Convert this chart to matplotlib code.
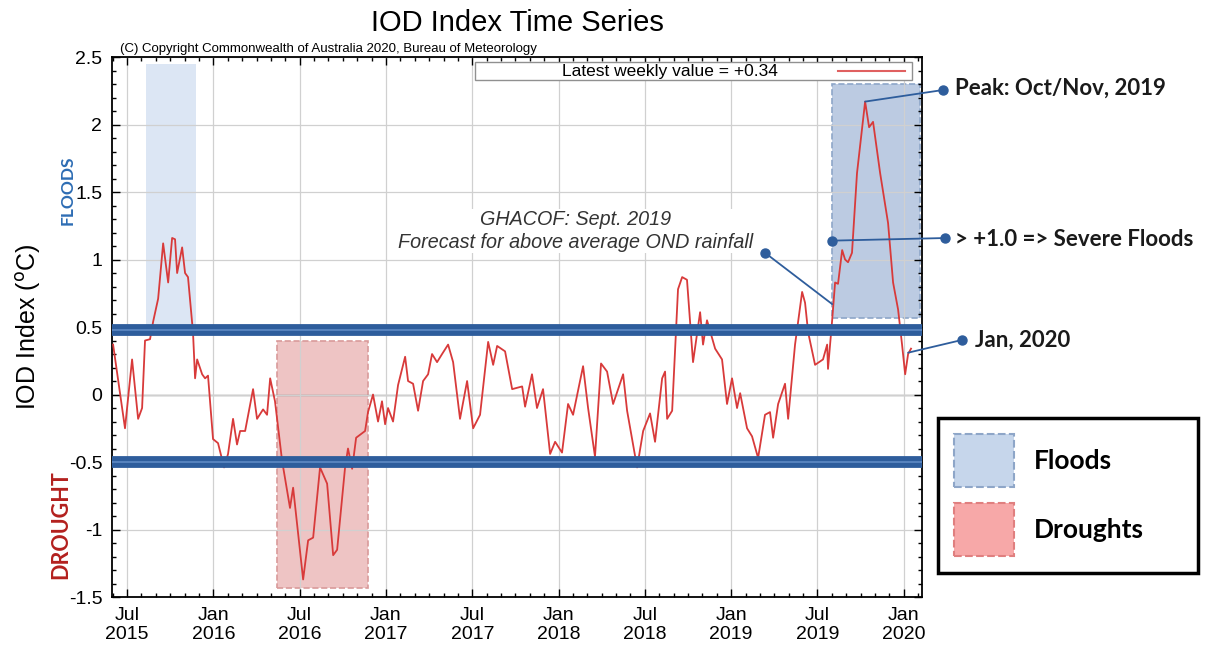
import matplotlib
matplotlib.use('Agg')
import matplotlib.pyplot as plt
from matplotlib.patches import Rectangle, Patch
from matplotlib.lines import Line2D
from matplotlib.ticker import MultipleLocator

plt.rcParams['font.family'] = ['Liberation Sans', 'DejaVu Sans']
plt.rcParams['axes.unicode_minus'] = False

# weekly IOD index (time as decimal year, value in deg C)
years = [
    2015.419, 2015.488, 2015.529, 2015.564, 2015.587, 2015.604, 2015.633, 2015.651,
    2015.680, 2015.709, 2015.738, 2015.761, 2015.778, 2015.790, 2015.819, 2015.836,
    2015.853, 2015.882, 2015.894, 2015.906, 2015.935, 2015.952, 2015.969, 2015.998,
    2016.027, 2016.062, 2016.085, 2016.114, 2016.137, 2016.155, 2016.184, 2016.230,
    2016.253, 2016.288, 2016.311, 2016.329, 2016.357, 2016.398, 2016.444, 2016.462,
    2016.520, 2016.549, 2016.578, 2016.618, 2016.659, 2016.694, 2016.717, 2016.763,
    2016.780, 2016.804, 2016.827, 2016.879, 2016.896, 2016.925, 2016.954, 2016.977,
    2016.995, 2017.012, 2017.041, 2017.070, 2017.111, 2017.128, 2017.157, 2017.186,
    2017.215, 2017.244, 2017.267, 2017.296, 2017.325, 2017.360, 2017.389, 2017.429,
    2017.470, 2017.505, 2017.545, 2017.592, 2017.621, 2017.644, 2017.690, 2017.731,
    2017.789, 2017.806, 2017.846, 2017.875, 2017.910, 2017.951, 2017.980, 2018.020,
    2018.055, 2018.084, 2018.142, 2018.171, 2018.211, 2018.246, 2018.281, 2018.316,
    2018.374, 2018.397, 2018.455, 2018.490, 2018.530, 2018.559, 2018.600, 2018.617,
    2018.629, 2018.658, 2018.692, 2018.716, 2018.744, 2018.779, 2018.820, 2018.837,
    2018.860, 2018.907, 2018.947, 2018.976, 2019.005, 2019.034, 2019.052, 2019.092,
    2019.121, 2019.156, 2019.196, 2019.225, 2019.243, 2019.272, 2019.312, 2019.330,
    2019.370, 2019.411, 2019.428, 2019.446, 2019.486, 2019.532, 2019.556, 2019.561,
    2019.585, 2019.602, 2019.619, 2019.643, 2019.660, 2019.677, 2019.700, 2019.729,
    2019.776, 2019.799, 2019.822, 2019.863, 2019.909, 2019.938, 2019.967, 2019.990,
    2020.008, 2020.025, 2020.042,
]
iod = [
    0.37, -0.25, 0.26, -0.18, -0.10, 0.40, 0.41, 0.54,
    0.71, 1.12, 0.83, 1.16, 1.15, 0.90, 1.09, 0.90,
    0.87, 0.46, 0.12, 0.26, 0.15, 0.12, 0.14, -0.33,
    -0.36, -0.54, -0.44, -0.18, -0.37, -0.27, -0.27, 0.04,
    -0.18, -0.11, -0.15, 0.12, -0.05, -0.49, -0.84, -0.69,
    -1.37, -1.08, -1.06, -0.54, -0.66, -1.19, -1.15, -0.54,
    -0.40, -0.55, -0.32, -0.27, -0.13, 0.00, -0.20, -0.05,
    -0.22, -0.10, -0.20, 0.07, 0.28, 0.10, 0.08, -0.12,
    0.10, 0.15, 0.30, 0.24, 0.30, 0.37, 0.24, -0.18,
    0.10, -0.25, -0.15, 0.39, 0.22, 0.36, 0.32, 0.04,
    0.06, -0.09, 0.15, -0.10, 0.04, -0.44, -0.35, -0.43,
    -0.07, -0.15, 0.21, -0.10, -0.46, 0.23, 0.17, -0.07,
    0.15, -0.12, -0.54, -0.27, -0.14, -0.35, 0.12, 0.17,
    -0.18, -0.12, 0.78, 0.87, 0.85, 0.24, 0.61, 0.37,
    0.55, 0.34, 0.26, -0.07, 0.12, -0.10, 0.01, -0.25,
    -0.31, -0.47, -0.15, -0.13, -0.32, -0.07, 0.08, -0.18,
    0.37, 0.76, 0.68, 0.46, 0.22, 0.26, 0.37, 0.19,
    0.55, 0.83, 0.82, 1.07, 1.00, 0.98, 1.05, 1.64,
    2.17, 1.98, 2.02, 1.64, 1.27, 0.83, 0.63, 0.37,
    0.15, 0.30, 0.34,
]

tick_years = [2015.5, 2016.0, 2016.5, 2017.0, 2017.5, 2018.0, 2018.5, 2019.0, 2019.5, 2020.0]
tick_labels = ['Jul\n2015', 'Jan\n2016', 'Jul\n2016', 'Jan\n2017', 'Jul\n2017',
               'Jan\n2018', 'Jul\n2018', 'Jan\n2019', 'Jul\n2019', 'Jan\n2020']

# shaded events: (start, end, low, high)
flood_2015 = (2015.61, 2015.90, 0.50, 2.45)
flood_2019 = (2019.585, 2020.095, 0.57, 2.30)
drought_2016 = (2016.367, 2016.898, -1.43, 0.40)
thresholds = [0.48, -0.50]
latest_value = 0.34

peak_point = (2019.776, 2.17)
severe_point = (2019.585, 1.14)
jan2020_point = (2020.025, 0.31)
ghacof_dot = (2019.196, 1.05)
ghacof_point = (2019.585, 0.67)
ghacof_text_at = (2018.096, 1.21)

blue = '#2e5d9c'
red = '#d83a3a'


def main():
    fig = plt.figure(figsize=(12.26, 6.55), dpi=100)
    ax = fig.add_axes([0.0914, 0.0885, 0.6607, 0.8244])
    ax.set_xlim(2015.413, 2020.106)
    ax.set_ylim(-1.5, 2.5)

    # event boxes
    x0, x1, y0, y1 = flood_2015
    ax.add_patch(Rectangle((x0, y0), x1 - x0, y1 - y0, facecolor='#dce6f4',
                           edgecolor='none', zorder=1))
    x0, x1, y0, y1 = flood_2019
    ax.add_patch(Rectangle((x0, y0), x1 - x0, y1 - y0, facecolor='#bccbe2',
                           edgecolor='#8ea6c8', linestyle='--', lw=1.2, zorder=1))
    x0, x1, y0, y1 = drought_2016
    ax.add_patch(Rectangle((x0, y0), x1 - x0, y1 - y0, facecolor='#eec4c4',
                           edgecolor='#d99a9a', linestyle='--', lw=1.2, zorder=1))

    ax.grid(True, color='#d0d0d0', lw=0.9, zorder=0)
    ax.axhline(0, color='#8c8c8c', lw=1.0, zorder=1.5)

    ax.plot(years, iod, color=red, lw=1.3, zorder=3)

    for level in thresholds:
        ax.axhline(level, color=blue, lw=8.5, zorder=4)
        ax.axhline(level, color='#5f8ac4', lw=1.2, zorder=4.1)

    # ticks
    ax.set_xticks(tick_years, tick_labels)
    ax.set_yticks([-1.5, -1, -0.5, 0, 0.5, 1, 1.5, 2, 2.5],
                  ['-1.5', '-1', '-0.5', '0', '0.5', '1', '1.5', '2', '2.5'])
    ax.xaxis.set_minor_locator(MultipleLocator(1 / 12))
    ax.yaxis.set_minor_locator(MultipleLocator(0.1))
    ax.tick_params(which='both', direction='in', top=True, right=True, width=1.0)
    ax.tick_params(which='major', length=6, labelsize=14, pad=7)
    ax.tick_params(which='minor', length=3)
    for sp in ax.spines.values():
        sp.set_linewidth(1.3)

    ax.set_ylabel('IOD Index ($^{\\rm o}$C)', fontsize=18)
    ax.yaxis.set_label_coords(-0.085, 0.5)
    ax.text(-0.055, 0.754, 'FLOODS', transform=ax.transAxes, rotation=90,
            ha='center', va='center', color='#2e6db4', fontsize=12.5,
            fontweight='bold', family=['Lato', 'DejaVu Sans'])
    ax.text(-0.063, 0.135, 'DROUGHT', transform=ax.transAxes, rotation=90,
            ha='center', va='center', color='#b3201e', fontsize=15.5,
            fontweight='bold', family=['Lato', 'DejaVu Sans'])

    ax.set_title('IOD Index Time Series', fontsize=21, pad=19)
    ax.text(0.01, 1.004, '(C) Copyright Commonwealth of Australia 2020, Bureau of Meteorology',
            transform=ax.transAxes, fontsize=9.5, va='bottom', ha='left')

    # "latest weekly value" key
    ax.add_patch(Rectangle((0.448, 0.957), 0.540, 0.034, transform=ax.transAxes,
                           facecolor='white', edgecolor='#909090', lw=1.0, zorder=5))
    ax.text(0.689, 0.974, 'Latest weekly value = +%.2f' % latest_value,
            transform=ax.transAxes, ha='center', va='center', fontsize=12.5, zorder=6)
    ax.add_line(Line2D([0.896, 0.979], [0.974, 0.974], transform=ax.transAxes,
                       color='#e06060', lw=1.5, zorder=6))

    # GHACOF note
    ax.text(ghacof_text_at[0], ghacof_text_at[1],
            'GHACOF: Sept. 2019\nForecast for above average OND rainfall',
            ha='center', va='center', style='italic', fontsize=14.2,
            linespacing=1.25, family=['Liberation Sans Narrow', 'Liberation Sans'],
            color='#333333', bbox=dict(fc='white', ec='none', pad=1), zorder=5)
    line_kw = dict(arrowstyle='-', color=blue, lw=1.3, shrinkA=0, shrinkB=0)
    ax.annotate('', xy=ghacof_point, xytext=ghacof_dot, arrowprops=line_kw, zorder=6)
    ax.plot(*ghacof_dot, 'o', color=blue, ms=6.5, zorder=7)

    # callouts on the right
    note_font = dict(family=['Lato', 'DejaVu Sans'], fontweight='bold', fontsize=16,
                     va='center', ha='left', color='#1a1a1a')
    callouts = [
        (peak_point, (0.7692, 0.8626), 'Peak: Oct/Nov, 2019', (0.779, 0.866)),
        (severe_point, (0.7708, 0.6366), '> +1.0 => Severe Floods', (0.779, 0.634)),
        (jan2020_point, (0.7847, 0.4810), 'Jan, 2020', (0.795, 0.481)),
    ]
    for xy, dot, label, text_at in callouts:
        ax.annotate('', xy=xy, xycoords='data', xytext=dot, textcoords='figure fraction',
                    arrowprops=line_kw, annotation_clip=False, zorder=6)
        fig.add_artist(Line2D([dot[0]], [dot[1]], marker='o', color=blue, ms=6.5,
                              transform=fig.transFigure))
        fig.text(text_at[0], text_at[1], label, **note_font)
    ax.plot(*severe_point, 'o', color=blue, ms=6.5, zorder=7, clip_on=False)

    # event legend
    handles = [
        Patch(facecolor='#c6d6eb', edgecolor='#8ea6c8', linestyle='--', lw=1.5),
        Patch(facecolor='#f7a8a8', edgecolor='#e07f7f', linestyle='--', lw=1.5),
    ]
    leg = fig.legend(handles, ['Floods', 'Droughts'], loc='upper left',
                     bbox_to_anchor=(0.765, 0.362, 0.212, 0.0), mode='expand',
                     borderaxespad=0,
                     prop={'family': ['Lato', 'DejaVu Sans'], 'weight': 'bold', 'size': 19},
                     handlelength=2.25, handleheight=2.7, labelspacing=0.62,
                     borderpad=0.62, handletextpad=0.75, fancybox=False,
                     edgecolor='black', framealpha=1)
    leg.get_frame().set_linewidth(2.5)

    fig.savefig('out.png', dpi=100)
    plt.close(fig)


if __name__ == '__main__':
    main()
